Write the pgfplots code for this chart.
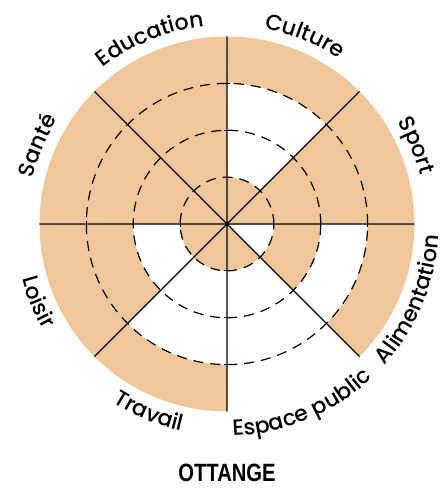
\documentclass[border=0pt]{standalone}
\usepackage{fontspec}
\usepackage{pgfplots}
\pgfplotsset{compat=1.18}
\usepgfplotslibrary{polar}
\usetikzlibrary{decorations.text,calc}

\newfontfamily\labfont{Poppins Medium}
\newfontfamily\titlefont[FakeStretch=0.81]{Liberation Sans}
\definecolor{tanfill}{RGB}{240,199,155}

% one ring unit = 187.5bp / 4
\newcommand\ringunit{46.875bp}
\pgfplotsset{
  ring/.style={draw=tanfill, line cap=butt, line join=miter, no markers, samples=46},
  lab/.style={draw=none, no markers, samples=80, postaction={decorate},
    decoration={text along path, text align=center,
      text={|\labfont\fontsize{22bp}{25bp}\selectfont|#1}}},
}
% filled ring segment: angle from, angle to, radius from, radius to
\newcommand\seg[4]{%
  \addplot[ring, line width={(#4-#3)*\ringunit}, domain=#1:#2] ({x},{(#3+#4)/2});}

\begin{document}
\begin{tikzpicture}
\begin{polaraxis}[
  width=375bp, height=375bp, scale only axis,
  xmin=0, xmax=360, ymin=0, ymax=4,
  xtick={0,45,...,315}, xticklabels={},
  ytick={1,2,3}, yticklabels={},
  xmajorgrids, ymajorgrids,
  x grid style={black, line width=1.2bp, solid},
  y grid style={black, line width=1.2bp, dash pattern=on 10bp off 7bp},
  axis line style={draw=none}, tick style={draw=none},
  axis on top, clip=false,
]
% Culture
\seg{45}{90}{0}{1}
\seg{45}{90}{3}{4}
% Sport
\seg{0}{45}{0}{4}
% Alimentation
\seg{-45}{0}{1}{2}
\seg{-45}{0}{3}{4}
% Espace public
\seg{-90}{-45}{0}{1}
% Travail
\seg{-135}{-90}{0}{1}
\seg{-135}{-90}{3}{4}
% Loisir
\seg{-180}{-135}{0}{1}
\seg{-180}{-135}{2}{4}
% Sante
\seg{135}{180}{0}{4}
% Education
\seg{90}{135}{0}{4}

% small ticks on the four main spokes
\addplot[only marks, mark=|, mark size=3bp, mark options={line width=1bp, black}]
  coordinates {(0,1)(0,2)(0,3)(180,1)(180,2)(180,3)};
\addplot[only marks, mark=-, mark size=3bp, mark options={line width=1bp, black}]
  coordinates {(90,1)(90,2)(90,3)(270,1)(270,2)(270,3)};

% labels, upper ones run clockwise, lower ones counter-clockwise
\addplot[lab=Culture, domain=-107.5:-27.5] ({-x},{4.25});
\addplot[lab=Sport, domain=-62.5:17.5] ({-x},{4.25});
\addplot[lab=Santé, domain=-197.5:-117.5] ({-x},{4.25});
\addplot[lab=Education, domain=-152.5:-72.5] ({-x},{4.25});
\addplot[lab=Alimentation, domain=-62.5:17.5] ({x},{4.52});
\addplot[lab=Espace public, domain=-107.5:-27.5] ({x},{4.52});
\addplot[lab=Travail, domain=-152.5:-72.5] ({x},{4.52});
\addplot[lab=Loisir, domain=-197.5:-117.5] ({x},{4.52});

\node[font=\titlefont\bfseries\fontsize{25bp}{25bp}\selectfont] at (axis cs:270,5.31) {OTTANGE};
\coordinate (c) at (axis cs:0,0);
\end{polaraxis}
\path ($(c)+(-227bp,224bp)$) rectangle ($(c)+(220bp,-272bp)$);
\end{tikzpicture}
\end{document}
